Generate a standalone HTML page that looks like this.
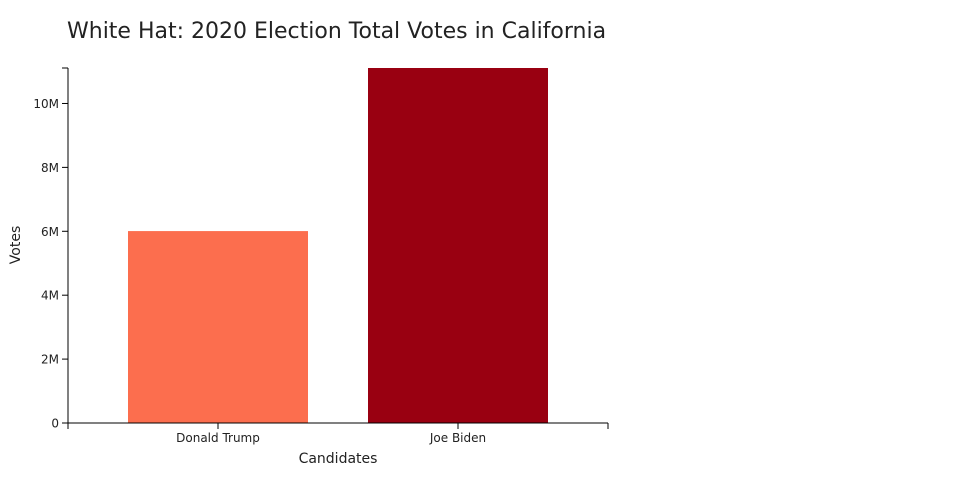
<!DOCTYPE html>
<html><head><meta charset="utf-8"><style>
body{margin:0;background:#fff;font-family:"DejaVu Sans",sans-serif;}
svg text{font-family:"DejaVu Sans",sans-serif;fill:#222;}
</style></head><body>
<svg id="chart" width="960" height="500">
<text x="67" y="38" font-size="22">White Hat: 2020 Election Total Votes in California</text>
<g id="bars"></g>
<g id="yaxis"></g>
<g id="xaxis"></g>
<text transform="translate(20,245) rotate(-90)" text-anchor="middle" font-size="14">Votes</text>
<text x="338" y="463" text-anchor="middle" font-size="14">Candidates</text>
</svg>
<script>
const categories=["Donald Trump","Joe Biden"];
const votes=[6006429,11110250];
const colors=["#fc6e4e","#990011"];
const yTicks=[0,2e6,4e6,6e6,8e6,10e6];
const yTickLabels=["0","2M","4M","6M","8M","10M"];
const NS="http://www.w3.org/2000/svg";
const x0=68,x1=608,yBase=423,yTop=68;
const yMax=Math.max(...votes);
const y=v=>yBase-(v/yMax)*(yBase-yTop);
const pad=0.25;
const step=(x1-x0)/(categories.length+pad);
const bw=step*(1-pad);
const bx=i=>x0+step*pad+i*step;
function mk(t,a,p){const e=document.createElementNS(NS,t);for(const k in a)e.setAttribute(k,a[k]);p.appendChild(e);return e;}
const bars=document.getElementById('bars');
votes.forEach((v,i)=>{
 const r=mk('rect',{x:bx(i),y:y(v),width:bw,height:yBase-y(v),fill:colors[i]},bars);
 
 
});
const ya=document.getElementById('yaxis');


mk('line',{x1:x0,x2:x0,y1:yTop,y2:yBase,stroke:'#000'},ya);
mk('line',{x1:x0-6,x2:x0,y1:yTop,y2:yTop,stroke:'#000'},ya);
yTicks.forEach((t,i)=>{
 mk('line',{x1:x0-6,x2:x0,y1:y(t),y2:y(t),stroke:'#000'},ya);
 const tx=mk('text',{x:x0-9,y:y(t)+4.5,'text-anchor':'end','font-size':12},ya);
 tx.textContent=yTickLabels[i];
 
 
});
const xa=document.getElementById('xaxis');


mk('line',{x1:x0,x2:x1,y1:yBase,y2:yBase,stroke:'#000'},xa);
mk('line',{x1:x0,x2:x0,y1:yBase,y2:yBase+6,stroke:'#000'},xa);
mk('line',{x1:x1,x2:x1,y1:yBase,y2:yBase+6,stroke:'#000'},xa);
categories.forEach((c,i)=>{
 const cx=bx(i)+bw/2;
 mk('line',{x1:cx,x2:cx,y1:yBase,y2:yBase+6,stroke:'#000'},xa);
 const tx=mk('text',{x:cx,y:yBase+19,'text-anchor':'middle','font-size':12},xa);
 tx.textContent=c;
 
 
});
</script>
</body></html>
